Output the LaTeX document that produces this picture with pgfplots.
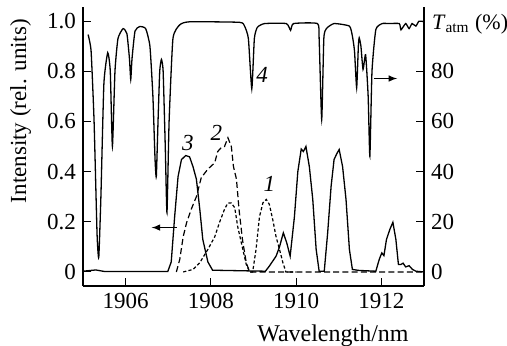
\documentclass[border=0pt]{standalone}
\usepackage{fontspec}
\setmainfont{LiberationSerif}[Extension=.ttf,UprightFont=*-Regular,ItalicFont=*-Italic,BoldFont=*-Bold,BoldItalicFont=*-BoldItalic]
\usepackage{pgfplots}
\pgfplotsset{compat=1.18}
\begin{document}
\begin{tikzpicture}
\useasboundingbox (-41.5pt,-29.5pt) rectangle (212pt,143pt);
\begin{axis}[
  at={(0,0)}, anchor=south west,
  scale only axis, width=170.5pt, height=139.5pt,
  xmin=1905, xmax=1913, ymin=-0.056, ymax=1.056,
  xtick={1906,1908,1910,1912}, xticklabels={\textrm{1906},\textrm{1908},\textrm{1910},\textrm{1912}},
  ytick={0,0.2,0.4,0.6,0.8,1.0}, yticklabels={\textrm{0},\textrm{0.2},\textrm{0.4},\textrm{0.6},\textrm{0.8},\textrm{1.0}},
  axis y line*=left, axis x line*=bottom,
  tick align=inside, major tick length=4pt,
  tick style={line width=0.5pt,black},
  axis line style={line width=0.6pt},
  /pgf/number format/assume math mode=true,
  tick label style={font=\rmfamily\fontsize{11.5}{13}\selectfont},
  xlabel={Wavelength/nm}, ylabel={Intensity (rel. units)},
  every axis x label/.style={at={(axis description cs:0.733,-0.2)},anchor=base,font=\rmfamily\fontsize{12}{14}\selectfont},
  every axis y label/.style={at={(axis description cs:-0.183,0.627)},anchor=center,rotate=90,font=\rmfamily\fontsize{11.5}{13}\selectfont},
  clip=true,
]
% curve 4: atmospheric transmission (fraction of 100%)
\addplot[black, line width=0.65pt, smooth, tension=0.3] coordinates {
(1905.12,0.946)(1905.19,0.88)(1905.26,0.6)(1905.33,0.15)(1905.37,0.058)(1905.42,0.3)(1905.49,0.75)
(1905.58,0.874)(1905.64,0.8)(1905.69,0.50)(1905.75,0.8)(1905.82,0.93)(1905.94,0.97)(1906.03,0.95)
(1906.09,0.85)(1906.12,0.767)(1906.15,0.85)(1906.22,0.96)(1906.33,0.978)(1906.47,0.97)(1906.57,0.9)
(1906.64,0.7)(1906.69,0.45)(1906.72,0.38)(1906.76,0.6)(1906.80,0.8)(1906.84,0.847)(1906.88,0.8)
(1906.93,0.5)(1906.97,0.237)(1907.02,0.6)(1907.11,0.93)(1907.27,0.985)(1907.50,0.997)(1908.67,0.995)
(1908.79,0.98)(1908.88,0.93)(1908.96,0.73)(1909.02,0.93)(1909.09,0.975)(1909.26,0.99)(1909.77,0.99)
(1909.87,0.963)(1909.94,0.99)(1910.50,0.99)(1910.54,0.93)(1910.60,0.607)(1910.65,0.93)(1910.71,0.97)
(1910.89,0.99)(1911.25,0.98)(1911.32,0.94)(1911.37,0.88)(1911.42,0.734)(1911.46,0.9)(1911.48,0.933)
(1911.52,0.9)(1911.57,0.807)(1911.63,0.866)(1911.69,0.7)(1911.73,0.461)(1911.78,0.8)(1911.87,0.966)
(1912.02,0.99)(1912.18,0.99)(1912.42,0.99)(1912.46,0.965)(1912.57,0.99)(1912.65,0.97)(1912.72,0.99)
(1912.81,0.98)(1912.88,0.999)(1913,0.998)};
% curve 3
\addplot[black, line width=0.65pt] coordinates {
(1905,0.003)(1905.3,0.008)(1905.5,0.002)(1906.99,0.002)(1907.07,0.04)(1907.15,0.22)(1907.23,0.38)
(1907.31,0.448)(1907.41,0.464)(1907.50,0.459)(1907.58,0.42)(1907.66,0.37)(1907.74,0.25)(1907.81,0.13)
(1907.93,0.04)(1908.04,0.007)(1909.28,0.003)(1909.37,0.023)(1909.53,0.063)(1909.61,0.10)(1909.70,0.156)
(1909.78,0.116)(1909.86,0.063)(1909.96,0.22)(1910.04,0.40)(1910.12,0.49)(1910.17,0.48)(1910.23,0.50)
(1910.31,0.42)(1910.39,0.29)(1910.47,0.09)(1910.54,0.003)(1910.66,0.003)(1910.74,0.156)(1910.82,0.34)
(1910.89,0.448)(1910.95,0.47)(1911.01,0.488)(1911.09,0.42)(1911.17,0.29)(1911.25,0.09)(1911.32,0.01)
(1911.48,0.006)(1911.87,0.003)(1911.95,0.05)(1912.01,0.076)(1912.06,0.065)(1912.12,0.13)(1912.20,0.17)
(1912.27,0.198)(1912.34,0.13)(1912.40,0.03)(1912.46,0.03)(1912.51,0.035)(1912.57,0.02)(1912.65,0.025)
(1912.73,0.01)(1912.81,0.003)(1913,0.0)};
% curve 2
\addplot[black, line width=0.6pt, dash pattern=on 3pt off 1.6pt] coordinates {
(1907.19,0)(1907.27,0.05)(1907.35,0.14)(1907.43,0.196)(1907.54,0.25)(1907.66,0.30)(1907.78,0.38)
(1907.83,0.388)(1907.93,0.41)(1908.09,0.435)(1908.16,0.48)(1908.24,0.495)(1908.32,0.50)(1908.40,0.535)
(1908.48,0.50)(1908.53,0.42)(1908.60,0.37)(1908.66,0.25)(1908.74,0.13)(1908.83,0.037)(1908.91,0)
(1913,0)};
% curve 1
\addplot[black, line width=0.6pt, dash pattern=on 1.6pt off 1.1pt] coordinates {
(1907.35,0)(1907.58,0.01)(1907.74,0.037)(1907.93,0.09)(1908.09,0.14)(1908.20,0.196)(1908.32,0.25)
(1908.40,0.275)(1908.48,0.275)(1908.56,0.256)(1908.63,0.18)(1908.75,0.09)(1908.83,0.03)(1908.91,0)
(1908.98,0)(1909.06,0.09)(1909.14,0.22)(1909.22,0.275)(1909.30,0.289)(1909.37,0.27)(1909.45,0.21)
(1909.53,0.14)(1909.61,0.09)(1909.69,0.037)(1909.76,0)(1910.0,0)};
\node[font=\rmfamily\fontsize{11.5}{13}\selectfont\itshape] at (axis cs:1907.46,0.515) {3};
\node[font=\rmfamily\fontsize{11.5}{13}\selectfont\itshape] at (axis cs:1908.13,0.555) {2};
\node[font=\rmfamily\fontsize{11.5}{13}\selectfont\itshape] at (axis cs:1909.37,0.35) {1};
\node[font=\rmfamily\fontsize{11.5}{13}\selectfont\itshape] at (axis cs:1909.2,0.787) {4};
\draw[-latex, line width=0.5pt] (axis cs:1907.2,0.177) -- (axis cs:1906.61,0.177);
\draw[-latex, line width=0.5pt] (axis cs:1911.83,0.771) -- (axis cs:1912.37,0.771);
\end{axis}
\begin{axis}[
  at={(0,0)}, anchor=south west,
  scale only axis, width=170.5pt, height=139.5pt,
  xmin=1905, xmax=1913, ymin=-5.6, ymax=105.6,
  hide x axis, axis y line*=right,
  ytick={0,20,40,60,80}, yticklabels={\textrm{0},\textrm{20},\textrm{40},\textrm{60},\textrm{80}},
  tick align=inside, major tick length=4pt,
  tick style={line width=0.5pt,black},
  axis line style={line width=0.6pt},
  /pgf/number format/assume math mode=true,
  tick label style={font=\rmfamily\fontsize{11.5}{13}\selectfont},
  clip=false,
]
\node[anchor=base west, font=\rmfamily\fontsize{11}{13}\selectfont, inner sep=0pt, xshift=3.8pt, yshift=-4pt] at (axis cs:1913,100) {\textit{T}\textsubscript{atm} (\%)};
\end{axis}
\end{tikzpicture}
\end{document}
